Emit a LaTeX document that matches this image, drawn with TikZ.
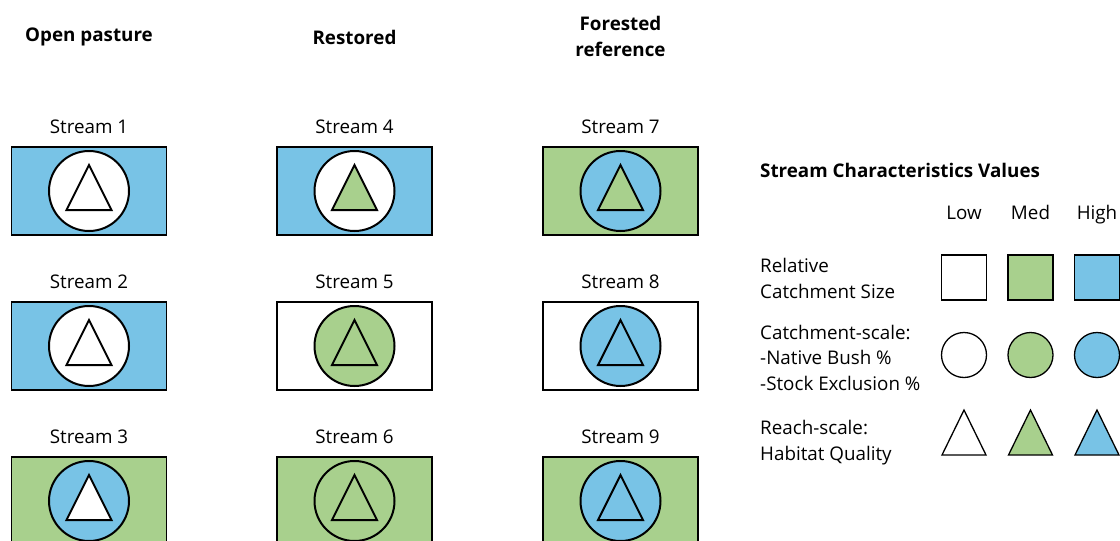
\documentclass[tikz,border=0pt]{standalone}
\usepackage{fontspec}
\setmainfont{Open Sans}
\usetikzlibrary{calc}
\begin{document}
\begin{tikzpicture}[x=1pt,y=-1pt,
  lbl/.style={font=\fontsize{18.8}{20}\selectfont, inner sep=0pt, anchor=base},
  hdr/.style={font=\fontsize{18.8}{26}\selectfont\bfseries, inner sep=0pt, align=center},
  rbox/.style={draw=black, line width=1.3pt, minimum width=155pt, minimum height=88pt, inner sep=0pt},
  disc/.style={circle, draw=black, line width=2pt, minimum size=80pt, inner sep=0pt},
  tri/.style={draw=black, line width=2pt, line join=miter},
  lsq/.style={draw=black, line width=1.3pt, minimum size=45pt, inner sep=0pt},
  lci/.style={circle, draw=black, line width=1.3pt, minimum size=45pt, inner sep=0pt},
  ltri/.style={draw=black, line width=1.3pt, line join=miter}]
\definecolor{bl}{HTML}{78C3E6}
\definecolor{gr}{HTML}{A8D08D}
\useasboundingbox (0,0) rectangle (1120,541);
\clip (0,0) rectangle (1120,541);
% headers
\node[hdr] (h1) at (89,37) {Open pasture};
\node[hdr] (h2) at (354.5,37) {Restored};
\node[hdr] (h3) at (620.5,36) {Forested\\reference};
% streams: name, x, y, rect fill, circle fill, tri fill, label
\newcommand\streamcell[7]{%
  \node[lbl] (#1l) at (#2,#3-58) {#7};
  \node[rbox, fill=#4] (#1r) at (#2,#3) {};
  \node[disc, fill=#5] (#1c) at (#2,#3) {};
  \draw[tri, fill=#6] ($(#1c)+(0,-26)$) -- ($(#1c)+(22.5,19)$) -- ($(#1c)+(-22.5,19)$) -- cycle;
}
\streamcell{s1}{89}{191}{bl}{white}{white}{Stream 1}
\streamcell{s2}{89}{346}{bl}{white}{white}{Stream 2}
\streamcell{s3}{89}{501}{gr}{bl}{white}{Stream 3}
\streamcell{s4}{354.5}{191}{bl}{white}{gr}{Stream 4}
\streamcell{s5}{354.5}{346}{white}{gr}{gr}{Stream 5}
\streamcell{s6}{354.5}{501}{gr}{gr}{gr}{Stream 6}
\streamcell{s7}{620.5}{191}{gr}{bl}{gr}{Stream 7}
\streamcell{s8}{620.5}{346}{white}{bl}{bl}{Stream 8}
\streamcell{s9}{620.5}{501}{gr}{bl}{bl}{Stream 9}
% legend
\node[font=\fontsize{18.8}{20}\selectfont\bfseries, inner sep=0pt, anchor=base west] (lt) at (760,177) {Stream Characteristics Values};
\node[lbl] (low) at (964,219) {Low};
\node[lbl] (med) at (1030.5,219) {Med};
\node[lbl] (high) at (1097,219) {High};
\node[lbl, anchor=base west] (r1a) at (760,272) {Relative};
\node[lbl, anchor=base west] (r1b) at (760,298) {Catchment Size};
\node[lbl, anchor=base west] (r2a) at (760,339) {Catchment-scale:};
\node[lbl, anchor=base west] (r2b) at (760,364) {-Native Bush \%};
\node[lbl, anchor=base west] (r2c) at (760,390) {-Stock Exclusion \%};
\node[lbl, anchor=base west] (r3a) at (760,434) {Reach-scale:};
\node[lbl, anchor=base west] (r3b) at (760,460) {Habitat Quality};
\node[lsq, fill=white] (sqL) at (964,277.5) {};
\node[lsq, fill=gr] (sqM) at (1030.5,277.5) {};
\node[lsq, fill=bl] (sqH) at (1097,277.5) {};
\node[lci, fill=white] (ciL) at (964,355) {};
\node[lci, fill=gr] (ciM) at (1030.5,355) {};
\node[lci, fill=bl] (ciH) at (1097,355) {};
\coordinate (tL) at (964,432.5);
\coordinate (tM) at (1030.5,432.5);
\coordinate (tH) at (1097,432.5);
\foreach \c/\f in {tL/white,tM/gr,tH/bl}{
  \draw[ltri, fill=\f] ($(\c)+(0,-22.5)$) -- ($(\c)+(22,22.5)$) -- ($(\c)+(-22,22.5)$) -- cycle;
}
\end{tikzpicture}
\end{document}
